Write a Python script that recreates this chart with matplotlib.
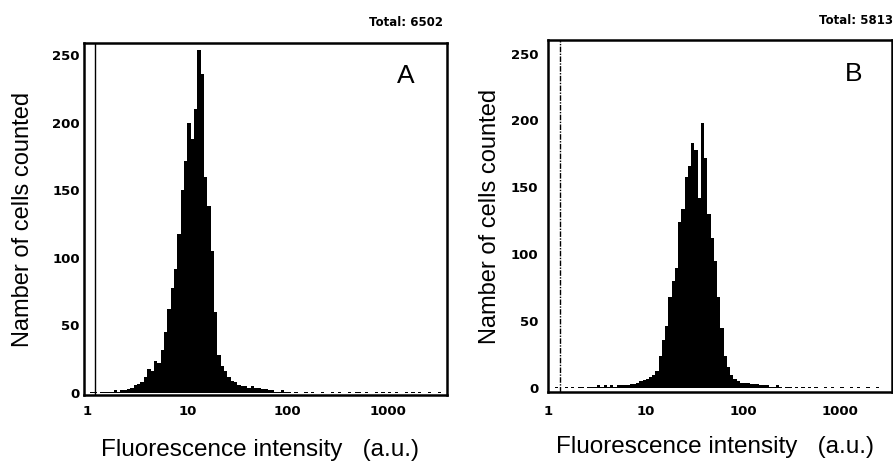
import numpy as np
import matplotlib
matplotlib.use("Agg")
import matplotlib.pyplot as plt

# DATA ------------------------------------------------
# counts per log channel (30 channels per decade, channel 0 starts at 1 a.u.)
channels_per_decade = 30

counts_a = [0, 1, 1, 0, 1, 1, 1, 1, 2, 1,
            2, 2, 3, 4, 6, 7, 8, 12, 18, 16,
            24, 22, 32, 45, 62, 78, 92, 118, 150, 172,
            200, 188, 210, 254, 236, 160, 138, 105, 60, 28,
            20, 16, 12, 9, 8, 6, 5, 5, 4, 5,
            4, 4, 3, 3, 2, 2, 1, 1, 2, 1,
            1, 0, 1, 0, 0, 1, 0, 1, 0, 0,
            1, 0, 0, 1, 0, 1, 0, 0, 1, 0,
            1, 1, 0, 1, 0, 0, 1, 0, 1, 0,
            1, 0, 1, 0, 0, 1, 0, 1, 0, 1,
            0, 0, 1, 0, 0, 1, 0, 0]

counts_b = [0, 0, 1, 0, 0, 1, 0, 1, 0, 1,
            1, 0, 1, 1, 1, 2, 1, 2, 1, 2,
            1, 2, 2, 2, 2, 3, 3, 4, 5, 6,
            7, 8, 10, 13, 24, 36, 46, 68, 80, 90,
            124, 134, 158, 166, 183, 178, 142, 198, 172, 130,
            112, 95, 68, 45, 24, 16, 10, 7, 5, 4,
            4, 4, 3, 3, 3, 2, 2, 2, 1, 1,
            2, 1, 0, 1, 1, 0, 1, 0, 1, 0,
            1, 0, 1, 0, 0, 1, 0, 1, 0, 0,
            1, 0, 0, 1, 0, 1, 0, 0, 1, 0,
            0, 1, 0, 0, 0, 0]

totals = ["Total: 6502", "Total: 5813"]
panel_letters = ["A", "B"]
xticks = [1, 10, 100, 1000]
xtick_labels = ["1", "10", "100", "1000"]
yticks = [0, 50, 100, 150, 200, 250]

# PLOT ------------------------------------------------
plt.rcParams['font.family'] = ['Liberation Sans', 'DejaVu Sans']

fig = plt.figure(figsize=(8.93, 4.62), dpi=100)
ax_a = fig.add_axes([0.094, 0.145, 0.4066, 0.762])
ax_b = fig.add_axes([0.6137, 0.1515, 0.3853, 0.7615])

setups = [
    (ax_a, counts_a, (0.933, 3880), (-1.5, 259), 3, 7, 1.2, '-'),
    (ax_b, counts_b, (0.99, 3400), (-3, 260), 7, 9, 1.3, (0, (4, 1, 1, 1))),
]

for i, (ax, counts, xl, yl, ypad, xpad, marker_x, marker_ls) in enumerate(setups):
    counts = np.array(counts)
    edges = 10 ** (np.arange(len(counts) + 1) / channels_per_decade)
    ax.stairs(counts, edges, fill=True, color='black', baseline=0)
    ax.set_xscale('log')
    ax.set_xlim(*xl)
    ax.set_ylim(*yl)
    ax.set_xticks(xticks)
    ax.set_xticklabels(xtick_labels)
    ax.minorticks_off()
    ax.set_yticks(yticks)
    ax.tick_params(axis='both', length=0)
    ax.tick_params(axis='y', pad=ypad)
    ax.tick_params(axis='x', pad=xpad)
    for lab in ax.get_xticklabels() + ax.get_yticklabels():
        lab.set_fontfamily('DejaVu Sans')
        lab.set_fontweight('bold')
        lab.set_fontsize(9.5)
    for sp in ax.spines.values():
        sp.set_linewidth(1.8)
    # faint inner frame / gate line near the left edge
    ax.axvline(marker_x, color='black', lw=1.0, ls=marker_ls)

    ax.text(0.485, -0.157, "Fluorescence intensity   (a.u.)", transform=ax.transAxes,
            ha='center', va='center', fontsize=17.5)
    ax.text(-0.168, 0.5, "Namber of cells counted", transform=ax.transAxes,
            ha='center', va='center', rotation=90, fontsize=17)
    ax.text(0.887, 0.905, panel_letters[i], transform=ax.transAxes,
            ha='center', va='center', fontsize=19)

fig.text(443 / 893, 1 - 23 / 462, totals[0], ha='right', va='center',
         fontsize=8.5, fontweight='bold', family='DejaVu Sans')
fig.text(1.0, 1 - 20 / 462, totals[1], ha='right', va='center',
         fontsize=8.5, fontweight='bold', family='DejaVu Sans')

fig.savefig("out.png", dpi=100)
